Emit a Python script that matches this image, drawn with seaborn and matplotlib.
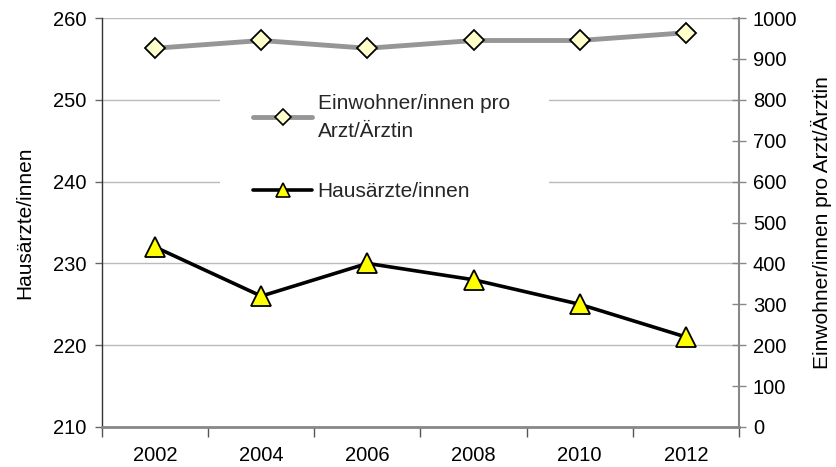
import matplotlib
matplotlib.use("Agg")
import matplotlib.pyplot as plt
from matplotlib.lines import Line2D
from matplotlib.patches import Rectangle
import seaborn as sns
import pandas as pd
import numpy as np

years = ["2002", "2004", "2006", "2008", "2010", "2012"]
hausaerzte = [232, 226, 230, 228, 225, 221]
einwohner_pro_arzt = [926, 945, 926, 945, 945, 964]

sns.set_theme(style="white")
plt.rcParams['font.family'] = ['Liberation Sans', 'DejaVu Sans']
FS = 14.5
LFS = 15

df = pd.DataFrame({"pos": np.arange(len(years)), "year": years,
                   "haus": hausaerzte, "einw": einwohner_pro_arzt})

fig = plt.figure(figsize=(8.37, 4.67), dpi=100)
ax = fig.add_axes([102/837, 1-427/467, (739-102)/837, (427-18)/467])
ax2 = ax.twinx()

sns.lineplot(data=df, x="pos", y="haus", ax=ax, color="black", linewidth=2.6,
             marker="^", markersize=14, markerfacecolor="#FFFF00",
             markeredgecolor="black", markeredgewidth=1.3, zorder=3)
sns.lineplot(data=df, x="pos", y="einw", ax=ax2, color="#969696", linewidth=3.5,
             marker="D", markersize=10, markerfacecolor="#FFFFCC",
             markeredgecolor="black", markeredgewidth=1.3, zorder=3)

ax.set_xlim(-0.5, len(years)-0.5)
ax.set_ylim(210, 260)
ax2.set_ylim(0, 1000)
ax.set_yticks(np.arange(210, 261, 10))
ax2.set_yticks(np.arange(0, 1001, 100))

ax.set_xticks(np.arange(-0.5, len(years), 1.0))
ax.set_xticklabels([])
ax.set_xticks(df["pos"], minor=True)
ax.set_xticklabels(years, minor=True)
ax.tick_params(axis="x", which="major", length=7, width=1, color="#555555", direction="out", bottom=True)
ax.tick_params(axis="x", which="minor", length=0, labelsize=FS, pad=14, colors="black")
ax.tick_params(axis="y", length=5, width=1, color="#666666", direction="out", left=True, labelsize=FS, pad=6, colors="black")
ax2.tick_params(axis="y", length=10, width=1, color="#888888", direction="inout", right=True, labelsize=FS, pad=5, colors="black")

ax.grid(axis="y", color="#BBBBBB", linewidth=1)
ax.grid(axis="x", visible=False)
ax2.grid(False)

ax.spines["top"].set_visible(False)
ax2.spines["top"].set_visible(False)
ax.spines["right"].set_visible(False)
ax2.spines["left"].set_visible(False)
ax2.spines["bottom"].set_visible(False)
ax.spines["left"].set_color("#333333")
ax.spines["left"].set_linewidth(1)
ax.spines["bottom"].set_color("#888888")
ax.spines["bottom"].set_linewidth(2)
ax2.spines["right"].set_color("#888888")
ax2.spines["right"].set_linewidth(1.5)

ax.set_xlabel("")
ax.set_ylabel("Hausärzte/innen", fontsize=LFS, color="black", labelpad=14)
ax2.set_ylabel("Einwohner/innen pro Arzt/Ärztin", fontsize=LFS, color="black", labelpad=10)

# white legend background area
ax.add_patch(Rectangle((0.185, 0.545), 0.517, 0.284, transform=ax.transAxes,
                       facecolor="white", edgecolor="none", zorder=2))

h1 = Line2D([], [], color="#969696", linewidth=3.5, marker="D", markersize=8,
            markerfacecolor="#FFFFCC", markeredgecolor="black", markeredgewidth=1.2)
h2 = Line2D([], [], color="black", linewidth=2.6, marker="^", markersize=10,
            markerfacecolor="#FFFF00", markeredgecolor="black", markeredgewidth=1.2)
leg = ax2.legend([h1, h2], ["Einwohner/innen pro\nArzt/Ärztin", "Hausärzte/innen"],
                 loc="upper left", bbox_to_anchor=(0.237, 0.815), frameon=False,
                 fontsize=LFS, handlelength=2.85, handletextpad=0.25,
                 labelspacing=2.0, borderpad=0, borderaxespad=0)
leg.get_texts()[0].set_linespacing(1.6)

fig.savefig("out.png", dpi=100)
